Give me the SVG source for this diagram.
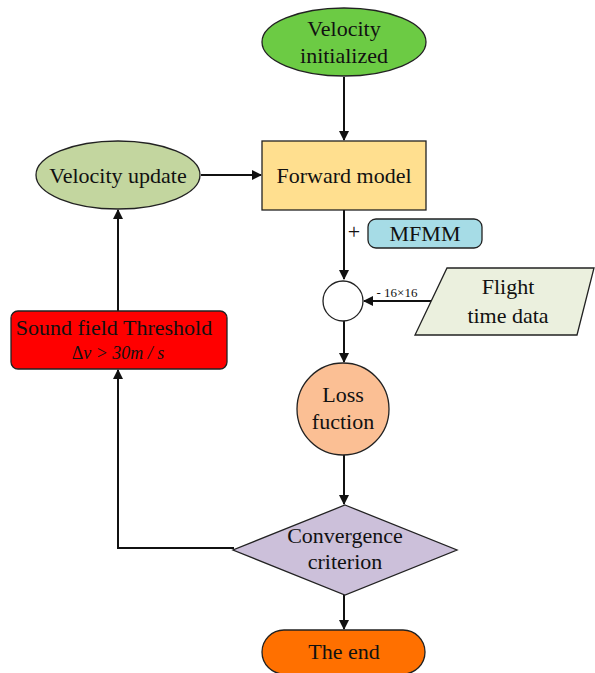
<svg xmlns="http://www.w3.org/2000/svg" width="595" height="673" viewBox="0 0 595 673">
<style>
.s{stroke:#222;stroke-width:1.3}
.t{font-family:"Liberation Serif",serif;font-size:22px;fill:#111;text-anchor:middle}
.c{fill:none;stroke:#111;stroke-width:2}
</style>
<defs>
<marker id="a" markerWidth="10" markerHeight="10" refX="9" refY="5" orient="auto" markerUnits="userSpaceOnUse">
<path d="M0,0 L10,5 L0,10 Z" fill="#111"/>
</marker>
</defs>
<rect width="595" height="673" fill="#fff"/>
<g id="connectors">
<line class="c" x1="344" y1="77" x2="344" y2="140" marker-end="url(#a)"/>
<line class="c" x1="201" y1="175" x2="261" y2="175" marker-end="url(#a)"/>
<line class="c" x1="344" y1="210" x2="344" y2="279" marker-end="url(#a)"/>
<line class="c" x1="431" y1="301" x2="364" y2="301" marker-end="url(#a)"/>
<line class="c" x1="344" y1="321" x2="344" y2="362" marker-end="url(#a)"/>
<line class="c" x1="344" y1="455" x2="344" y2="504" marker-end="url(#a)"/>
<line class="c" x1="344" y1="595" x2="344" y2="629" marker-end="url(#a)"/>
<polyline class="c" points="234,548 118,548 118,370" marker-end="url(#a)"/>
<line class="c" x1="118" y1="311" x2="118" y2="210" marker-end="url(#a)"/>
<text x="354" y="239" style="font-family:'Liberation Serif',serif;font-size:22px;fill:#111" text-anchor="middle">+</text>
<text x="397" y="297" style="font-family:'Liberation Serif',serif;font-size:13px;fill:#111" text-anchor="middle">- 16×16</text>
</g>
<g id="velocity-initialized">
<ellipse class="s" cx="344" cy="42" rx="82" ry="34" fill="#6CCB44"/>
<text class="t" x="344" y="36">Velocity</text>
<text class="t" x="344" y="63">initialized</text>
</g>
<g id="forward-model">
<rect class="s" x="262" y="141" width="164" height="69" fill="#FFDF8F"/>
<text class="t" x="344" y="183">Forward model</text>
</g>
<g id="velocity-update">
<ellipse class="s" cx="118" cy="175" rx="82" ry="34" fill="#C3D69F"/>
<text class="t" x="118" y="183">Velocity update</text>
</g>
<g id="mfmm">
<rect class="s" x="368" y="219" width="114" height="29" rx="8" fill="#A6DCE6"/>
<text class="t" x="425" y="241">MFMM</text>
</g>
<g id="sum">
<circle class="s" cx="343" cy="301" r="20" fill="#fff"/>
</g>
<g id="flight-time-data">
<polygon class="s" points="447,268 594,268 577,335 415,335" fill="#EBF0DE"/>
<text class="t" x="508" y="294">Flight</text>
<text class="t" x="508" y="323">time data</text>
</g>
<g id="threshold">
<rect class="s" x="11" y="311" width="216" height="58" rx="7" fill="#FF0000"/>
<text class="t" x="114" y="335">Sound field Threshold</text>
<text class="t" x="118" y="359" style="font-style:italic;font-size:18px"><tspan font-style="normal">Δ</tspan>v &gt; 30m / s</text>
</g>
<g id="loss">
<circle class="s" cx="343" cy="409" r="46" fill="#FBBF94"/>
<text class="t" x="343" y="402">Loss</text>
<text class="t" x="343" y="429">fuction</text>
</g>
<g id="convergence">
<polygon class="s" points="345,505 457,550 345,595 233,550" fill="#CCC0DA"/>
<text class="t" x="345" y="543">Convergence</text>
<text class="t" x="345" y="569">criterion</text>
</g>
<g id="the-end">
<rect class="s" x="262" y="630" width="163" height="44" rx="22" fill="#FF7000"/>
<text class="t" x="344" y="659">The end</text>
</g>
</svg>
